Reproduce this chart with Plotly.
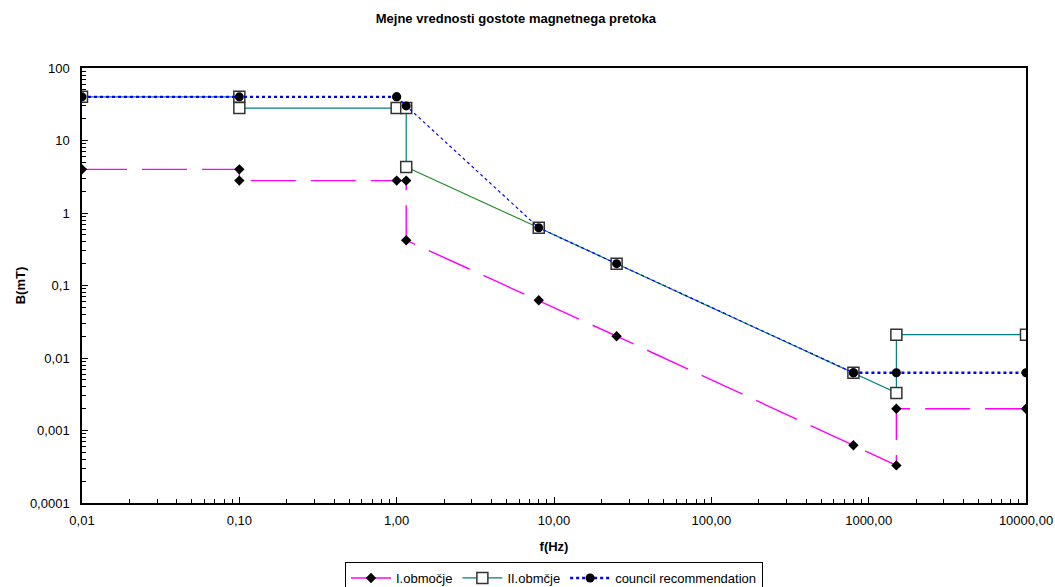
import plotly.graph_objects as go

# Data
f_I = [0.01, 0.1, 0.1, 1.0, 1.15, 1.15, 8, 25, 800, 1500, 1500, 10000]
B_I = [4, 4, 2.8, 2.8, 2.8, 0.42, 0.0625, 0.02, 0.000625, 0.00033, 0.002, 0.002]

f_II = [0.01, 0.1, 0.1, 1.0, 1.15, 1.15, None, 8, 25, 800, 1500, 1500, 10000]
B_II = [40, 40, 28, 28, 28, 4.3, None, 0.625, 0.2, 0.00625, 0.0033, 0.021, 0.021]

f_II_green = [1.15, 8]
B_II_green = [4.3, 0.625]

f_C = [0.01, 0.1, 1.0, 1.15, 8, 25, 800, 1500, 10000]
B_C = [40, 40, 40, 30, 0.625, 0.2, 0.00625, 0.00625, 0.00625]

x_tickvals = [0.01, 0.1, 1, 10, 100, 1000, 10000]
x_ticktext = ["0,01", "0,10", "1,00", "10,00", "100,00", "1000,00", "10000,00"]
y_tickvals = [0.0001, 0.001, 0.01, 0.1, 1, 10, 100]
y_ticktext = ["0,0001", "0,001", "0,01", "0,1", "1", "10", "100"]

FONT = "Liberation Sans, Arial, sans-serif"

# thick dotted parts of the council line (flat sections) and thin dotted (sloped)
thick_f = f_C[:3] + [None] + f_C[6:]
thick_B = B_C[:3] + [None] + B_C[6:]
thin_f = f_C[2:7]
thin_B = B_C[2:7]

fig = go.Figure()

fig.add_trace(go.Scatter(
    x=f_II_green, y=B_II_green, mode="lines",
    line=dict(color="#228B22", width=1.2), showlegend=False, hoverinfo="skip"))

fig.add_trace(go.Scatter(
    x=f_I, y=B_I, mode="lines+markers", name="I.območje",
    line=dict(color="#FF00FF", width=1.4, dash="45px,15px"),
    marker=dict(symbol="diamond", size=8, color="black")))

fig.add_trace(go.Scatter(
    x=f_II, y=B_II, mode="lines+markers", name="II.obmčje",
    connectgaps=False,
    line=dict(color="#008080", width=1.2),
    marker=dict(symbol="square", size=11, color="white",
                line=dict(color="#333333", width=1.5))))

fig.add_trace(go.Scatter(
    x=thin_f, y=thin_B, mode="lines+markers", showlegend=False,
    line=dict(color="#0000FF", width=1.2, dash="dot"),
    marker=dict(symbol="circle", size=9, color="black")))

fig.add_trace(go.Scatter(
    x=thick_f, y=thick_B, mode="lines+markers", name="council recommendation",
    connectgaps=False,
    line=dict(color="#0000FF", width=2.4, dash="dot"),
    marker=dict(symbol="circle", size=9, color="black")))

fig.update_layout(
    width=1055, height=587,
    margin=dict(l=82, r=29, t=68, b=84, autoexpand=False),
    paper_bgcolor="white", plot_bgcolor="white",
    font=dict(family=FONT, size=13, color="black"),
    title=dict(text="<b>Mejne vrednosti gostote magnetnega pretoka</b>",
               x=0.489, xanchor="center", xref="container",
               y=0.968, yanchor="middle", yref="container",
               font=dict(size=13, family=FONT, color="black")),
    showlegend=True,
    legend=dict(orientation="h", x=0.5, xanchor="center", xref="paper",
                y=0.0426, yanchor="top", yref="container",
                bordercolor="black", borderwidth=1,
                font=dict(size=13, family=FONT),
                itemwidth=40, tracegroupgap=0),
)

fig.update_xaxes(
    type="log", range=[-2, 4],
    tickvals=x_tickvals, ticktext=x_ticktext,
    ticks="inside", ticklen=6, tickcolor="black", tickwidth=1,
    minor=dict(ticks="inside", ticklen=4, tickcolor="black", dtick="D1", showgrid=False),
    showline=True, linecolor="black", linewidth=1.5, mirror=True,
    showgrid=False, zeroline=False, ticklabelstandoff=5,
    title=dict(text="<b>f(Hz)</b>", font=dict(size=13), standoff=15),
    tickfont=dict(size=13),
)
fig.update_yaxes(
    type="log", range=[-4, 2],
    tickvals=y_tickvals, ticktext=y_ticktext,
    ticks="inside", ticklen=6, tickcolor="black", tickwidth=1,
    minor=dict(ticks="inside", ticklen=4, tickcolor="black", dtick="D1", showgrid=False),
    showline=True, linecolor="black", linewidth=1.5, mirror=True,
    showgrid=False, zeroline=False, ticklabelstandoff=8,
    title=dict(text="<b>B(mT)</b>", font=dict(size=13), standoff=1),
    tickfont=dict(size=13),
)

fig.write_html("out.html")
